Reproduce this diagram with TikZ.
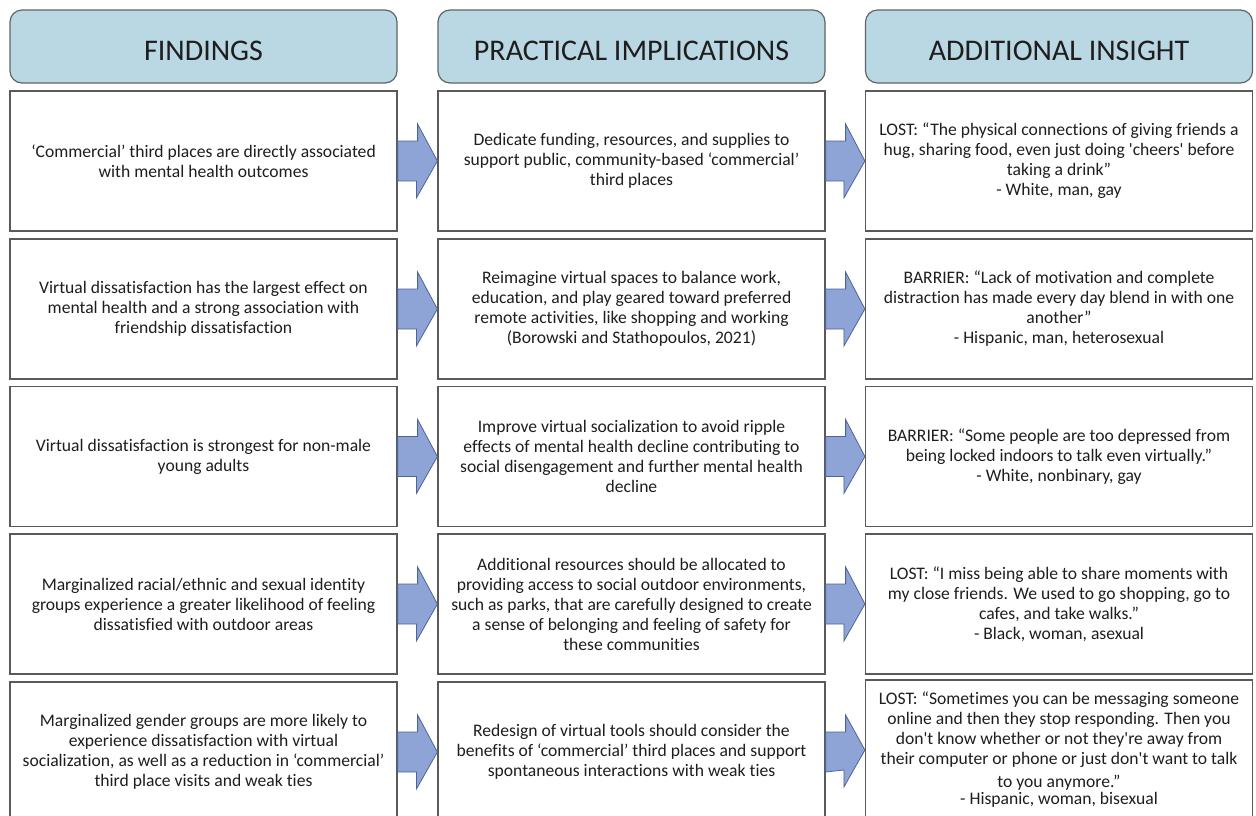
\documentclass[tikz,border=0pt]{standalone}
\usepackage{fontspec}
\setmainfont{Carlito}[Ligatures={TeXOff,CommonOff}]
\usetikzlibrary{positioning}

\definecolor{headfill}{HTML}{BAD7E4}
\definecolor{headline}{HTML}{5F6468}
\definecolor{boxline}{HTML}{5A5A5A}
\definecolor{arrowfill}{HTML}{8FA4D6}
\definecolor{arrowline}{HTML}{4F6496}
\definecolor{ink}{HTML}{1E1E1E}

\begin{document}
\begin{tikzpicture}[
    x=0.75pt, y=-0.75pt,
    header/.style={rectangle, draw=headline, fill=headfill, rounded corners=9pt, line width=0.9pt,
        minimum width=290.25pt, minimum height=54.75pt, text height=20.5pt, text depth=0pt,
        text=ink, font=\fontsize{22.5}{27}\selectfont},
    cell/.style={rectangle, draw=boxline, fill=white, line width=0.9pt, align=center,
        minimum width=290.25pt, minimum height=105pt, text=ink, font=\fontsize{13.2}{15}\selectfont},
    blockarrow/.style={draw=arrowline, fill=arrowfill, line width=0.6pt, line join=miter}
]
\useasboundingbox (0,0) rectangle (1256,815);
\clip (0,0) rectangle (1256,815);

% column headers
\node[header] (hfind) at (203.5,46.5) {FINDINGS};
\node[header] (hprac) at (631.5,46.5) {PRACTICAL IMPLICATIONS};
\node[header] (hins)  at (1059,46.5) {ADDITIONAL INSIGHT};

% findings
\node[cell] (f1) at (203.5,161) {‘Commercial’ third places are directly associated\\with mental health outcomes};
\node[cell] (f2) at (203.5,309) {Virtual dissatisfaction has the largest effect on\\mental health and a strong association with\\friendship dissatisfaction};
\node[cell] (f3) at (203.5,456.5) {Virtual dissatisfaction is strongest for non-male\\young adults};
\node[cell] (f4) at (203.5,604) {Marginalized racial/ethnic and sexual identity\\groups experience a greater likelihood of feeling\\dissatisfied with outdoor areas};
\node[cell] (f5) at (203.5,752) {Marginalized gender groups are more likely to\\experience dissatisfaction with virtual\\socialization, as well as a reduction in ‘commercial’\\third place visits and weak ties};

% practical implications
\node[cell] (p1) at (631.5,161) {Dedicate funding, resources, and supplies to\\support public, community-based ‘commercial’\\third places};
\node[cell] (p2) at (631.5,309) {Reimagine virtual spaces to balance work,\\education, and play geared toward preferred\\remote activities, like shopping and working\\(Borowski and Stathopoulos, 2021)};
\node[cell] (p3) at (631.5,456.5) {Improve virtual socialization to avoid ripple\\effects of mental health decline contributing to\\social disengagement and further mental health\\decline};
\node[cell] (p4) at (631.5,604) {Additional resources should be allocated to\\providing access to social outdoor environments,\\such as parks, that are carefully designed to create\\a sense of belonging and feeling of safety for\\these communities};
\node[cell] (p5) at (631.5,752) {Redesign of virtual tools should consider the\\benefits of ‘commercial’ third places and support\\spontaneous interactions with weak ties};

% quotes
\node[cell] (a1) at (1059,161) {LOST: “The physical connections of giving friends a\\hug, sharing food, even just doing 'cheers' before\\taking a drink”\\- White, man, gay};
\node[cell] (a2) at (1059,309) {BARRIER: “Lack of motivation and complete\\distraction has made every day blend in with one\\another”\\- Hispanic, man, heterosexual};
\node[cell] (a3) at (1059,456.5) {BARRIER: “Some people are too depressed from\\being locked indoors to talk even virtually.”\\- White, nonbinary, gay};
\node[cell] (a4) at (1059,604) {LOST: “I miss being able to share moments with\\my close friends. We used to go shopping, go to\\cafes, and take walks.”\\- Black, woman, asexual};
\node[cell] (a5) at (1059,750) {LOST: “Sometimes you can be messaging someone\\online and then they stop responding. Then you\\don't know whether or not they're away from\\their computer or phone or just don't want to talk\\[2.2pt]to you anymore.”\\[-2.2pt]- Hispanic, woman, bisexual};

% block arrows between columns
\foreach \a/\b in {f1/p1,f2/p2,f3/p3,f4/p4,f5/p5,p1/a1,p2/a2,p3/a3,p4/a4,p5/a5}
    \draw[blockarrow] ([shift={(0,-20)}]\a.east) -- ++(20,0) -- ++(0,-17) -- (\b.west)
        -- ++(-21,37) -- ++(0,-17) -- ([shift={(0,20)}]\a.east) -- cycle;

\end{tikzpicture}
\end{document}
